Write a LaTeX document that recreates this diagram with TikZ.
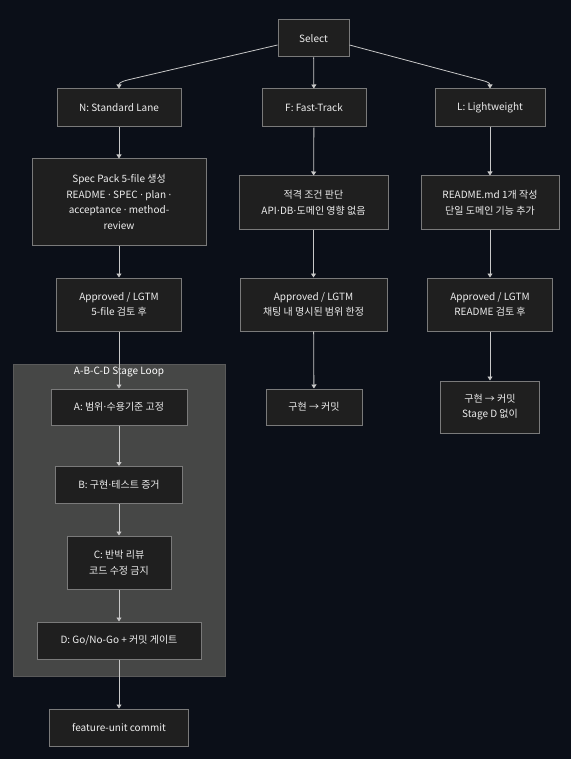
\documentclass[tikz,border=0pt]{standalone}
\usepackage{fontspec}
\setmainfont{Noto Sans CJK KR}
\newfontfamily\dotfont{DejaVu Sans}
\newcommand{\mdot}{{\dotfont ·}}
\usetikzlibrary{arrows.meta}
\definecolor{bgcol}{HTML}{0B0F18}
\definecolor{boxfill}{HTML}{1F1F1F}
\definecolor{boxline}{HTML}{7A7A7A}
\definecolor{loopfill}{HTML}{464746}
\definecolor{loopline}{HTML}{5A5A5A}
\definecolor{linecol}{HTML}{C8C8C8}
\definecolor{txtcol}{HTML}{EEEEEE}

\begin{document}
\begin{tikzpicture}[x=1pt,y=-1pt,
    box/.style={draw=boxline,fill=boxfill,text=txtcol,line width=1pt,align=center,inner sep=0pt,
      font=\fontsize{10}{15.6}\selectfont},
    edge/.style={draw=linecol,line width=0.8pt,-{Triangle[width=5pt,length=4pt]}}]
    \fill[bgcol] (0,0) rectangle (571,759);
    \useasboundingbox (0,0) rectangle (571,759);
    % stage loop group
    \draw[loopline,fill=loopfill] (13,364) rectangle (225,676);
    \node[text=white,font=\fontsize{10}{12}\selectfont] (loopT) at (119,372) {A-B-C-D Stage Loop};

    \node[box,minimum width=71pt,minimum height=37pt] (sel) at (313.5,38.5) {Select};
    % three lanes
    \node[box,minimum width=124pt,minimum height=38pt] (laneN) at (119,108) {N: Standard Lane};
    \node[box,minimum width=104pt,minimum height=38pt] (laneF) at (314,108) {F: Fast-Track};
    \node[box,minimum width=110pt,minimum height=38pt] (laneL) at (490,108) {L: Lightweight};

    \node[box,minimum width=174pt,minimum height=86pt] (specN) at (119,202)
      {Spec Pack 5-file 생성\\README \mdot{} SPEC \mdot{} plan \mdot\\acceptance \mdot{} method-\\review};
    \node[box,minimum width=149pt,minimum height=53pt] (specF) at (313.5,202.5)
      {적격 조건 판단\\API\mdot DB\mdot 도메인 영향 없음};
    \node[box,minimum width=138pt,minimum height=53pt] (specL) at (490,202.5)
      {README.md 1개 작성\\단일 도메인 기능 추가};

    \node[box,minimum width=125pt,minimum height=53pt] (okN) at (119,304.5)
      {Approved / LGTM\\5-file 검토 후};
    \node[box,minimum width=147pt,minimum height=53pt] (okF) at (313.5,304.5)
      {Approved / LGTM\\채팅 내 명시된 범위 한정};
    \node[box,minimum width=125pt,minimum height=53pt] (okL) at (490,304.5)
      {Approved / LGTM\\README 검토 후};

    \node[box,minimum width=96pt,minimum height=36pt] (doF) at (314,407) {구현 → 커밋};
    \node[box,minimum width=99pt,minimum height=52pt] (doL) at (490,407)
      {구현 → 커밋\\Stage D 없이};

    % stages inside the loop
    \node[box,minimum width=136pt,minimum height=36pt] (stA) at (119,407) {A: 범위\mdot 수용기준 고정};
    \node[box,minimum width=127pt,minimum height=37pt] (stB) at (119,485) {B: 구현\mdot 테스트 증거};
    \node[box,minimum width=104pt,minimum height=53pt] (stC) at (119,562.5)
      {C: 반박 리뷰\\코드 수정 금지};
    \node[box,minimum width=164pt,minimum height=37pt] (stD) at (119,640.5)
      {D: Go/No-Go + 커밋 게이트};
    \node[box,minimum width=139pt,minimum height=37pt] (done) at (119,727.5) {feature-unit commit};

    % connectors
    \draw[edge] ([yshift=-6.5pt]sel.west) -- (136,78) .. controls (124.3,80.7) and (119,82) .. (laneN.north);
    \draw[edge] (sel) -- (laneF);
    \draw[edge] ([yshift=-6.5pt]sel.east) -- (473,78) .. controls (484.6,81.1) and (490,82) .. (laneL.north);
    \draw[edge] (laneN) -- (specN);
    \draw[edge] (laneF) -- (specF);
    \draw[edge] (laneL) -- (specL);
    \draw[edge] (specN) -- (okN);
    \draw[edge] (specF) -- (okF);
    \draw[edge] (specL) -- (okL);
    \draw[edge] (okN) -- (stA);
    \draw[edge] (okF) -- (doF);
    \draw[edge] (okL) -- (doL);
    \draw[edge] (stA) -- (stB);
    \draw[edge] (stB) -- (stC);
    \draw[edge] (stC) -- (stD);
    \draw[edge] (stD) -- (done);
\end{tikzpicture}
\end{document}
